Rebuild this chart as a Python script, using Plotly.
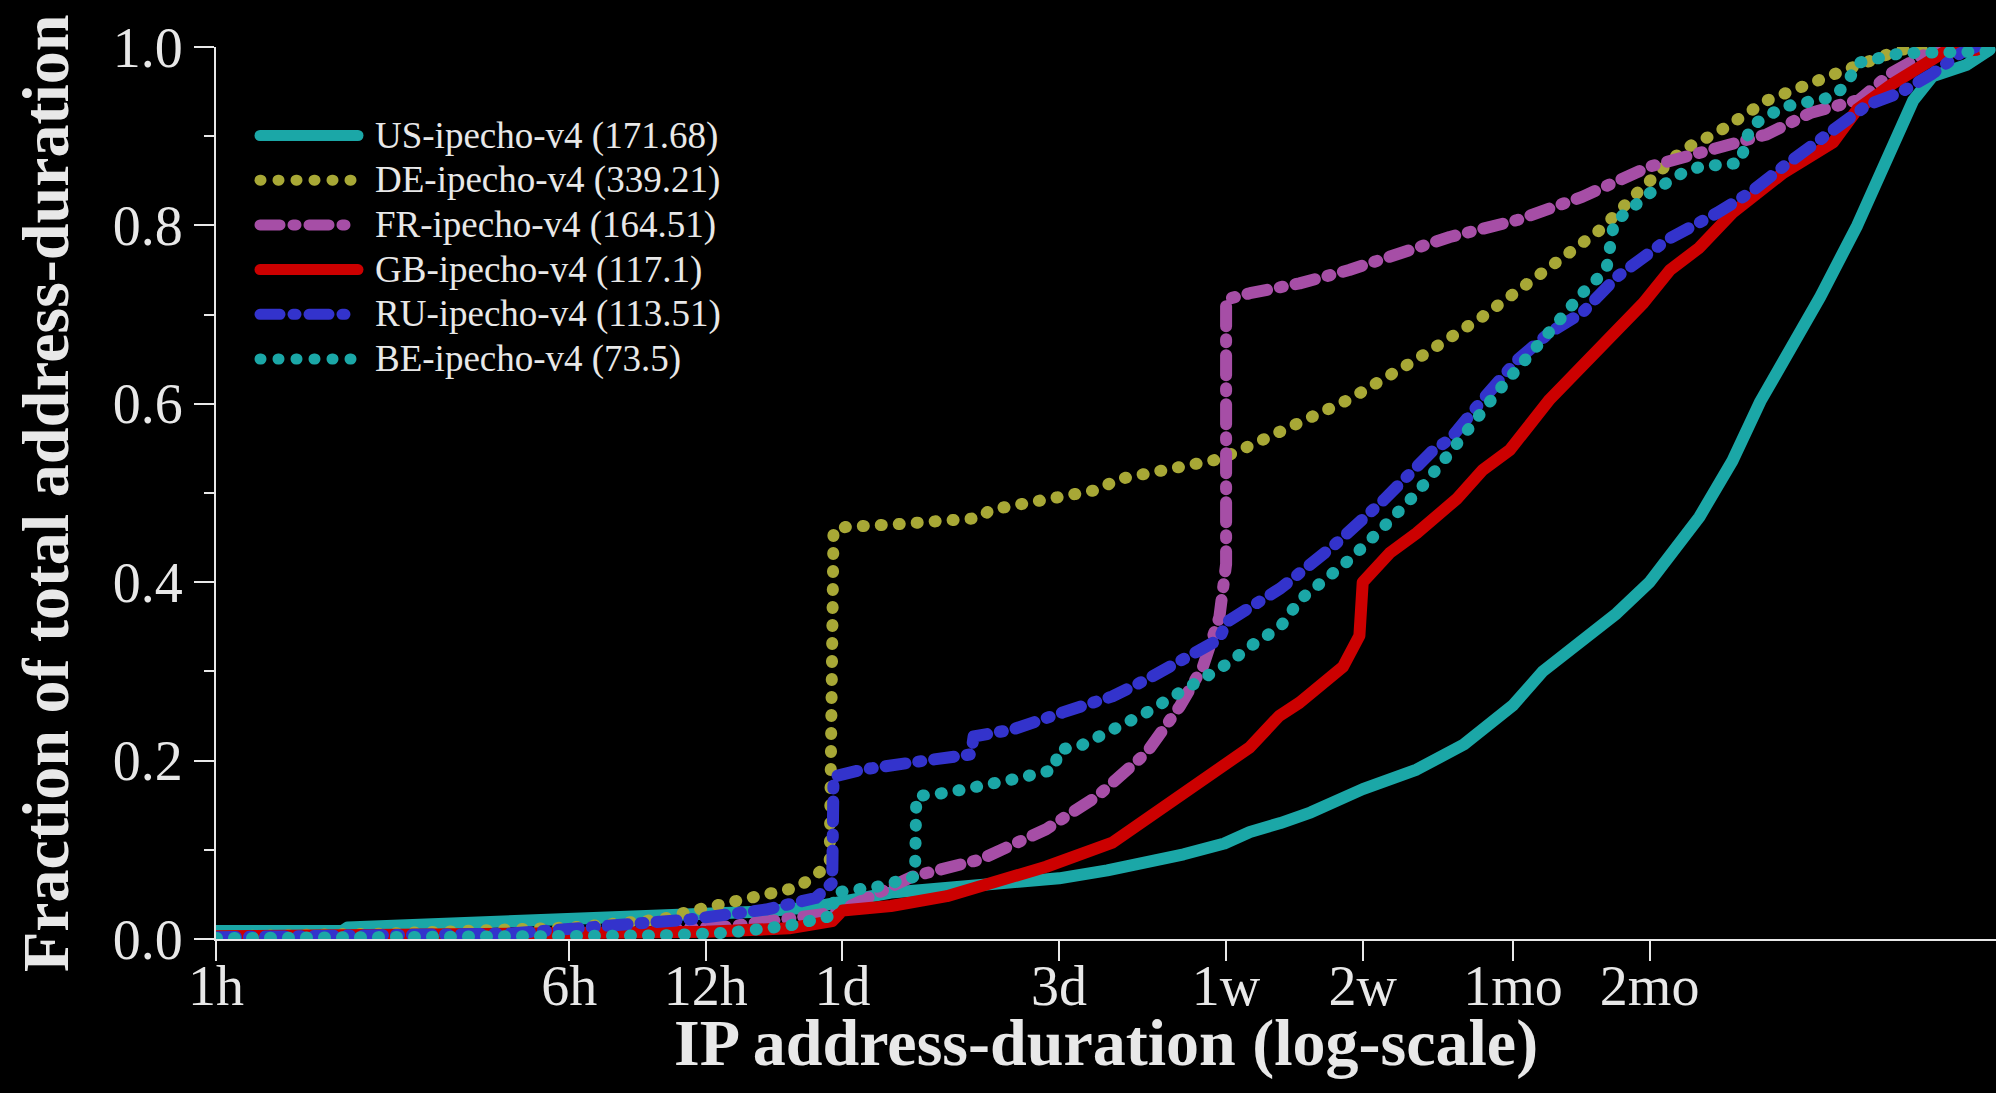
import plotly.graph_objects as go

# ---------------- data (hours on x, fraction on y) ----------------
series_names = [
    "US-ipecho-v4 (171.68)",
    "DE-ipecho-v4 (339.21)",
    "FR-ipecho-v4 (164.51)",
    "GB-ipecho-v4 (117.1)",
    "RU-ipecho-v4 (113.51)",
    "BE-ipecho-v4 (73.5)",
]

us_hours = [1, 1.9, 1.95, 2.94, 3.98, 6.1, 11.05, 16.28, 20.82, 24.47, 30.67, 42.36, 58.51, 72,
            91.94, 111.6, 135.5, 166.5, 189.6, 221.3, 258.4, 336, 441.8, 561.0, 720, 837.5, 1003,
            1120, 1218, 1440, 1853, 2192, 2527, 3008, 3423, 4128, 4788, 5484, 6042, 7193, 8080]
us_frac = [0.009, 0.009, 0.013, 0.016, 0.019, 0.021, 0.026, 0.031, 0.036, 0.044, 0.052, 0.058,
           0.063, 0.068, 0.077, 0.085, 0.095, 0.107, 0.12, 0.13, 0.142, 0.168, 0.19, 0.218, 0.262,
           0.30, 0.33, 0.35, 0.365, 0.40, 0.473, 0.536, 0.603, 0.67, 0.72, 0.80, 0.873, 0.94,
           0.967, 0.98, 0.997]

de_hours = [1, 2.32, 6.10, 9.59, 11.05, 13.42, 16.28, 19.14, 21.50, 22.49, 22.93, 24.47, 31.68,
            40.75, 48.19, 50.76, 62.81, 88.45, 96.21, 123.8, 162.4, 189.6, 243.9, 313.8, 441.8,
            618.1, 795.3, 946.6, 1120, 1324, 1704, 2029, 2400, 2609, 3651, 5141, 6530]
de_frac = [0.003, 0.006, 0.013, 0.022, 0.031, 0.042, 0.05, 0.058, 0.076, 0.083, 0.459, 0.462,
           0.465, 0.469, 0.472, 0.481, 0.489, 0.504, 0.515, 0.526, 0.538, 0.553, 0.578, 0.605,
           0.65, 0.698, 0.739, 0.769, 0.795, 0.832, 0.885, 0.904, 0.926, 0.94, 0.969, 0.997, 1.0]

fr_hours = [1, 4.42, 13.42, 20.82, 23.38, 34.22, 48.19, 67.45, 87.34, 112.3, 132.9, 149.3, 162.4,
            168, 168, 189.6, 243.9, 313.8, 522.5, 735.9, 1023, 1440, 2029, 2609, 3251, 4181, 4882,
            5484, 6081, 6966]
fr_frac = [0.002, 0.005, 0.014, 0.025, 0.03, 0.07, 0.089, 0.123, 0.16, 0.209, 0.261, 0.305, 0.361,
           0.42, 0.717, 0.724, 0.735, 0.75, 0.787, 0.806, 0.832, 0.866, 0.888, 0.902, 0.926, 0.941,
           0.97, 0.986, 0.997, 1.0]

gb_hours = [1, 4.42, 12.02, 18.30, 22.78, 24.0, 30.67, 40.75, 51.41, 67.45, 94.36, 122.2, 157.2,
            189.6, 219.9, 243.9, 303.8, 330.4, 336, 385.8, 441.8, 543.1, 618.1, 707.8, 867.8, 1023,
            1218, 1395, 1597, 1853, 2192, 2838, 3651, 4128, 4946, 5665, 6405, 7575]
gb_frac = [0.003, 0.005, 0.008, 0.012, 0.02, 0.032, 0.037, 0.048, 0.062, 0.081, 0.108, 0.148, 0.19,
           0.215, 0.25, 0.265, 0.305, 0.34, 0.40, 0.433, 0.455, 0.494, 0.526, 0.548, 0.605, 0.642,
           0.686, 0.713, 0.75, 0.775, 0.814, 0.859, 0.893, 0.93, 0.959, 0.978, 0.994, 0.997]

ru_hours = [1, 4.42, 11.05, 16.28, 20.95, 22.78, 22.93, 26.61, 34.22, 43.46, 46.07, 46.67, 57.02,
            73.35, 94.36, 112.3, 132.9, 162.4, 168, 187.2, 221.3, 288.4, 373.5, 480.4, 522.5, 618.1,
            735.9, 867.8, 1023, 1218, 1576, 2029, 2400, 2838, 3651, 4346, 5141, 6042, 6966, 7526]
ru_frac = [0.002, 0.006, 0.022, 0.033, 0.046, 0.063, 0.182, 0.19, 0.198, 0.205, 0.207, 0.227, 0.235,
           0.254, 0.272, 0.291, 0.31, 0.336, 0.355, 0.369, 0.393, 0.44, 0.492, 0.548, 0.56, 0.605,
           0.649, 0.68, 0.702, 0.742, 0.784, 0.814, 0.837, 0.866, 0.907, 0.935, 0.949, 0.97, 0.993,
           1.0]

be_hours = [1, 6.10, 9.47, 13.42, 18.30, 22.78, 23.08, 28.92, 34.67, 34.90, 40.75, 57.02, 70.56,
            71.47, 79.78, 112.3, 144.5, 170.9, 189.6, 221.3, 243.9, 313.8, 373.5, 441.8, 522.5,
            672.2, 837.5, 1023, 1156, 1202, 1440, 1704, 1865, 2279, 2400, 2838, 3651, 3921, 4128,
            5141, 8080]
be_frac = [0.001, 0.002, 0.004, 0.007, 0.015, 0.026, 0.052, 0.059, 0.07, 0.16, 0.164, 0.179, 0.19,
           0.212, 0.216, 0.254, 0.287, 0.31, 0.328, 0.35, 0.38, 0.425, 0.462, 0.50, 0.545, 0.616,
           0.672, 0.724, 0.75, 0.803, 0.836, 0.859, 0.866, 0.87, 0.911, 0.933, 0.944, 0.959, 0.982,
           0.993, 0.995]

x_tick_hours = [1, 6, 12, 24, 72, 168, 336, 720, 1440]
x_tick_labels = ["1h", "6h", "12h", "1d", "3d", "1w", "2w", "1mo", "2mo"]
y_major_ticks = [0.0, 0.2, 0.4, 0.6, 0.8, 1.0]
y_minor_ticks = [0.1, 0.3, 0.5, 0.7, 0.9]

x_title = "IP address-duration (log-scale)"
y_title = "Fraction of total address-duration"

# ---------------- styles ----------------
TEAL, OLIVE, PURPLE, RED, BLUE = "#1ba7a7", "#a8a836", "#a64ea6", "#cc0000", "#3333cc"
colors = [TEAL, OLIVE, PURPLE, RED, BLUE, TEAL]
DOT = "1px,17px"
DASHDOT = "20px,13px,3px,13px"
dashes = ["solid", DOT, DASHDOT, "solid", DASHDOT, DOT]
LW = 12
FG = "#e8e8e8"
FONT = "Liberation Serif"

W, H = 1996, 1093
ML, MR, MT, MB = 216, 0, 47, 154
PW, PH = W - ML - MR, H - MT - MB

all_hours = [us_hours, de_hours, fr_hours, gb_hours, ru_hours, be_hours]
all_frac = [us_frac, de_frac, fr_frac, gb_frac, ru_frac, be_frac]

fig = go.Figure()
for name, hx, fy, col, dsh in zip(series_names, all_hours, all_frac, colors, dashes):
    fig.add_trace(go.Scatter(x=hx, y=fy, mode="lines", name=name, showlegend=False,
                             line=dict(color=col, width=LW, dash=dsh)))

def px(x):
    return (x - ML) / PW

def py(y):
    return (MT + PH - y) / PH

# hand-built legend (long sample lines)
shapes, annotations = [], []
row0, step = 135.5, 44.7
for i, (name, col, dsh) in enumerate(zip(series_names, colors, dashes)):
    yc = row0 + i * step
    shapes.append(dict(type="line", xref="paper", yref="paper",
                       x0=px(260), x1=px(358), y0=py(yc), y1=py(yc),
                       line=dict(color=col, width=LW - 1, dash=dsh)))
    annotations.append(dict(text=name, xref="paper", yref="paper", x=px(373), y=py(yc),
                            xanchor="left", yanchor="middle", showarrow=False,
                            font=dict(family=FONT, size=37, color=FG)))

annotations.append(dict(text=x_title, xref="paper", yref="paper", x=0.5, y=py(1043),
                        xanchor="center", yanchor="middle", showarrow=False,
                        font=dict(family=FONT, size=66, color=FG, weight="bold")))
annotations.append(dict(text=y_title, xref="paper", yref="paper", x=px(45), y=0.5,
                        xanchor="center", yanchor="middle", showarrow=False, textangle=-90,
                        font=dict(family=FONT, size=66, color=FG, weight="bold")))

axis_common = dict(showgrid=False, zeroline=False, showline=True, linecolor=FG, linewidth=2,
                   ticks="outside", ticklen=20, tickwidth=2, tickcolor=FG,
                   tickfont=dict(family=FONT, size=56, color=FG))

fig.update_layout(
    width=W, height=H,
    paper_bgcolor="black", plot_bgcolor="black",
    margin=dict(l=ML, r=MR, t=MT, b=MB, autoexpand=False),
    showlegend=False,
    xaxis=dict(type="log", range=[0, 3.9215], tickmode="array", tickvals=x_tick_hours,
               ticktext=x_tick_labels, ticklabelstandoff=-23, **axis_common),
    yaxis=dict(range=[0, 1], tickmode="array", tickvals=y_major_ticks, tickformat=".1f",
               minor=dict(tickmode="array", tickvals=y_minor_ticks, ticks="outside", ticklen=10,
                          tickwidth=2, tickcolor=FG),
               **axis_common),
    shapes=shapes,
    annotations=annotations,
)

post = """
var s = document.createElement('style');
s.innerHTML = '.scatterlayer path.js-line, .shapelayer path { stroke-linecap: round !important; stroke-linejoin: round !important; }';
document.head.appendChild(s);
"""

fig.write_html("out.html", post_script=post)
